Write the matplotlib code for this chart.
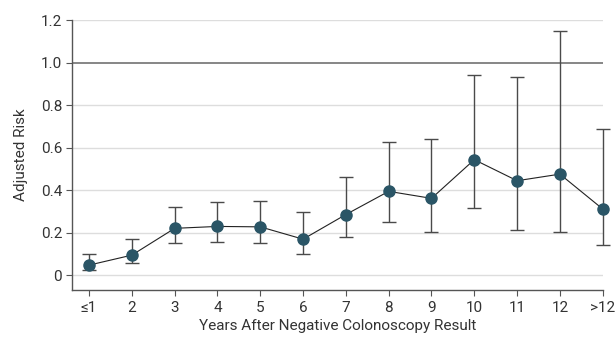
import matplotlib.pyplot as plt
import numpy as np

# years after negative colonoscopy and adjusted risk with 95% CI
years = ['≤1', '2', '3', '4', '5', '6', '7', '8', '9', '10', '11', '12', '>12']
risk = [0.047, 0.094, 0.22, 0.229, 0.227, 0.169, 0.285, 0.394, 0.361, 0.543, 0.444, 0.475, 0.311]
ci_low = [0.024, 0.055, 0.15, 0.154, 0.15, 0.10, 0.177, 0.249, 0.205, 0.318, 0.212, 0.201, 0.14]
ci_high = [0.097, 0.168, 0.32, 0.343, 0.35, 0.296, 0.463, 0.627, 0.638, 0.941, 0.933, 1.147, 0.687]

plt.rcParams['font.family'] = ['Roboto', 'DejaVu Sans']

fig = plt.figure(figsize=(6.15, 3.41), dpi=100)
ax = fig.add_axes([0.117, 0.1496, 0.863, 0.7917])

x = np.arange(len(years))
risk = np.array(risk)
yerr = [risk - np.array(ci_low), np.array(ci_high) - risk]

# grid and reference line
for yv in [0, 0.2, 0.4, 0.6, 0.8, 1.2]:
    ax.axhline(yv, color='#dddddd', lw=1, zorder=0)
ax.axhline(1.0, color='#666666', lw=1.1, zorder=1)

ax.errorbar(x, risk, yerr=yerr, fmt='none', ecolor='#4a4a4a', elinewidth=1,
            capsize=5, capthick=1, zorder=2, clip_on=False)
ax.plot(x, risk, color='#222222', lw=0.8, zorder=3, clip_on=False)
ax.plot(x, risk, 'o', color='#2a5566', markersize=8, zorder=4, clip_on=False)

ax.set_xlim(-0.4, 12)
ax.set_ylim(-0.07, 1.2)
ax.set_xticks(x)
ax.set_xticklabels(years)
ax.set_yticks([0, 0.2, 0.4, 0.6, 0.8, 1.0, 1.2])
ax.set_yticklabels(['0', '0.2', '0.4', '0.6', '0.8', '1.0', '1.2'])

for s in ['top', 'right']:
    ax.spines[s].set_visible(False)
for s in ['left', 'bottom']:
    ax.spines[s].set_color('#555555')
    ax.spines[s].set_linewidth(1)
ax.spines['left'].set_bounds(-0.07, 1.2)
ax.tick_params(colors='#555555', labelcolor='#333333', labelsize=11, length=4, pad=3)
ax.tick_params(axis='x', pad=4)

ax.set_xlabel('Years After Negative Colonoscopy Result', fontsize=11, color='#333333', labelpad=3)
ax.set_ylabel('Adjusted Risk', fontsize=11, color='#333333', labelpad=9)

plt.savefig('out.png', dpi=100)
